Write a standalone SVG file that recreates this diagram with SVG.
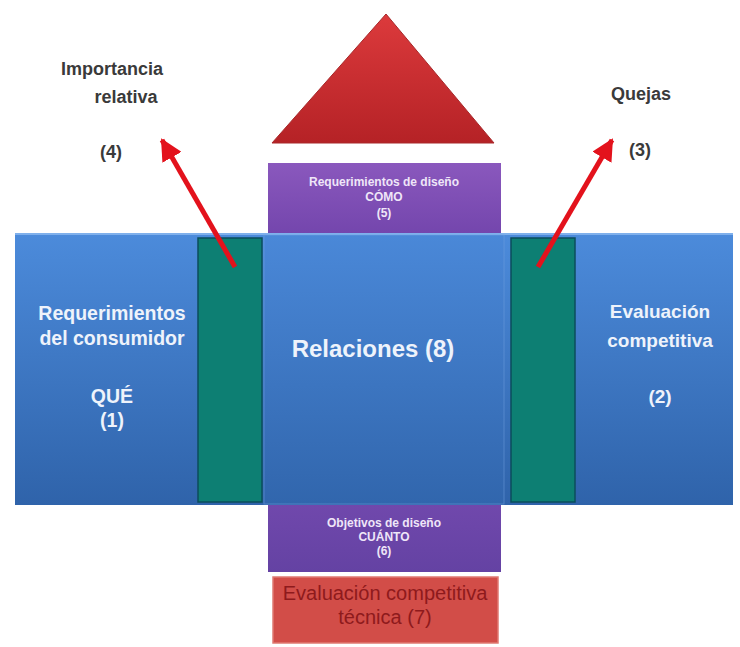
<svg xmlns="http://www.w3.org/2000/svg" width="740" height="647" viewBox="0 0 740 647">
  <defs>
    <linearGradient id="gBlue" x1="0" y1="0" x2="0" y2="1">
      <stop offset="0" stop-color="#4c8bdb"/>
      <stop offset="1" stop-color="#2f63aa"/>
    </linearGradient>
    <linearGradient id="gCenter" x1="0" y1="0" x2="0" y2="1">
      <stop offset="0" stop-color="#4a88d8"/>
      <stop offset="1" stop-color="#3166ad"/>
    </linearGradient>
    <linearGradient id="gRoof" x1="0" y1="0" x2="0" y2="1">
      <stop offset="0" stop-color="#dc3a3c"/>
      <stop offset="1" stop-color="#b52226"/>
    </linearGradient>
    <linearGradient id="gPurple" x1="0" y1="0" x2="0" y2="1">
      <stop offset="0" stop-color="#8a58bd"/>
      <stop offset="1" stop-color="#7446ad"/>
    </linearGradient>
    <linearGradient id="gPurple2" x1="0" y1="0" x2="0" y2="1">
      <stop offset="0" stop-color="#7048ac"/>
      <stop offset="1" stop-color="#6442a3"/>
    </linearGradient>
    <marker id="arrowHead" markerUnits="userSpaceOnUse" markerWidth="24" markerHeight="22" refX="20" refY="11" orient="auto">
      <path d="M0,0 L22,11 L0,22 Z" fill="#e3121c"/>
    </marker>
    <style>
      .lbl { font-family: "Liberation Sans", Arial, sans-serif; font-weight: bold; fill: #3a3a3a; text-anchor: middle; font-size: 18px; }
      .wht { font-family: "Liberation Sans", Arial, sans-serif; font-weight: bold; fill: #eef3fb; text-anchor: middle; }
      .sm  { font-family: "Liberation Sans", Arial, sans-serif; font-weight: bold; fill: #efe6f8; text-anchor: middle; font-size: 12px; }
      .red { font-family: "Liberation Sans", Arial, sans-serif; fill: #8e1a1c; text-anchor: middle; font-size: 20px; }
      .teal { fill: #0d7f73; stroke: #0b4d5c; stroke-width: 1.5; }
      .arrow { stroke: #e3121c; stroke-width: 5; fill: none; marker-end: url(#arrowHead); }
    </style>
  </defs>

  <rect width="740" height="647" fill="#ffffff"/>

  <!-- roof -->
  <g id="roof">
    <polygon points="386,14 272,143 494,143" fill="url(#gRoof)" stroke="#a8282a" stroke-width="1"/>
  </g>

  <!-- how: design requirements -->
  <g id="como">
    <rect x="268" y="163" width="233" height="70" fill="url(#gPurple)"/>
    <text class="sm" x="384" y="186">Requerimientos de diseño</text>
    <text class="sm" x="384" y="201">CÓMO</text>
    <text class="sm" x="384" y="217">(5)</text>
  </g>

  <!-- main band -->
  <g id="band">
    <rect x="15" y="233" width="718" height="272" fill="url(#gBlue)"/>
    <line x1="15" y1="234" x2="733" y2="234" stroke="#7fb0ec" stroke-width="2"/>
  </g>

  <g id="que">
    <text class="wht" x="112" y="320" font-size="19.5">Requerimientos</text>
    <text class="wht" x="112" y="345" font-size="19.5">del consumidor</text>
    <text class="wht" x="112" y="403" font-size="19.5">QUÉ</text>
    <text class="wht" x="112" y="427" font-size="19.5">(1)</text>
  </g>

  <g id="relaciones">
    <rect x="264" y="235" width="240" height="269" fill="url(#gCenter)" stroke="#6fa0e0" stroke-opacity="0.5" stroke-width="1"/>
    <text class="wht" x="373" y="357" font-size="24">Relaciones (8)</text>
  </g>

  <g id="evaluacion">
    <text class="wht" x="660" y="318" font-size="19">Evaluación</text>
    <text class="wht" x="660" y="347" font-size="19">competitiva</text>
    <text class="wht" x="660" y="403" font-size="19">(2)</text>
  </g>

  <g id="teal-left">
    <rect class="teal" x="198" y="238" width="64" height="264"/>
  </g>
  <g id="teal-right">
    <rect class="teal" x="511" y="238" width="64" height="264"/>
  </g>

  <!-- how much: design targets -->
  <g id="cuanto">
    <rect x="268" y="505" width="233" height="67" fill="url(#gPurple2)"/>
    <text class="sm" x="384" y="527">Objetivos de diseño</text>
    <text class="sm" x="384" y="541">CUÁNTO</text>
    <text class="sm" x="384" y="555">(6)</text>
  </g>

  <g id="tecnica">
    <rect x="273" y="577" width="225" height="66" fill="#d24d48" stroke="#e07a72" stroke-width="1.5"/>
    <text class="red" x="385" y="600">Evaluación competitiva</text>
    <text class="red" x="385" y="624">técnica (7)</text>
  </g>

  <g id="importancia">
    <text class="lbl" x="112" y="75">Importancia</text>
    <text class="lbl" x="126" y="103">relativa</text>
    <text class="lbl" x="111" y="158">(4)</text>
  </g>

  <g id="quejas">
    <text class="lbl" x="641" y="100">Quejas</text>
    <text class="lbl" x="640" y="156">(3)</text>
  </g>

  <!-- connectors -->
  <g id="connectors">
    <line class="arrow" x1="235" y1="267" x2="162" y2="140"/>
    <line class="arrow" x1="538" y1="267" x2="612" y2="140"/>
  </g>
</svg>
